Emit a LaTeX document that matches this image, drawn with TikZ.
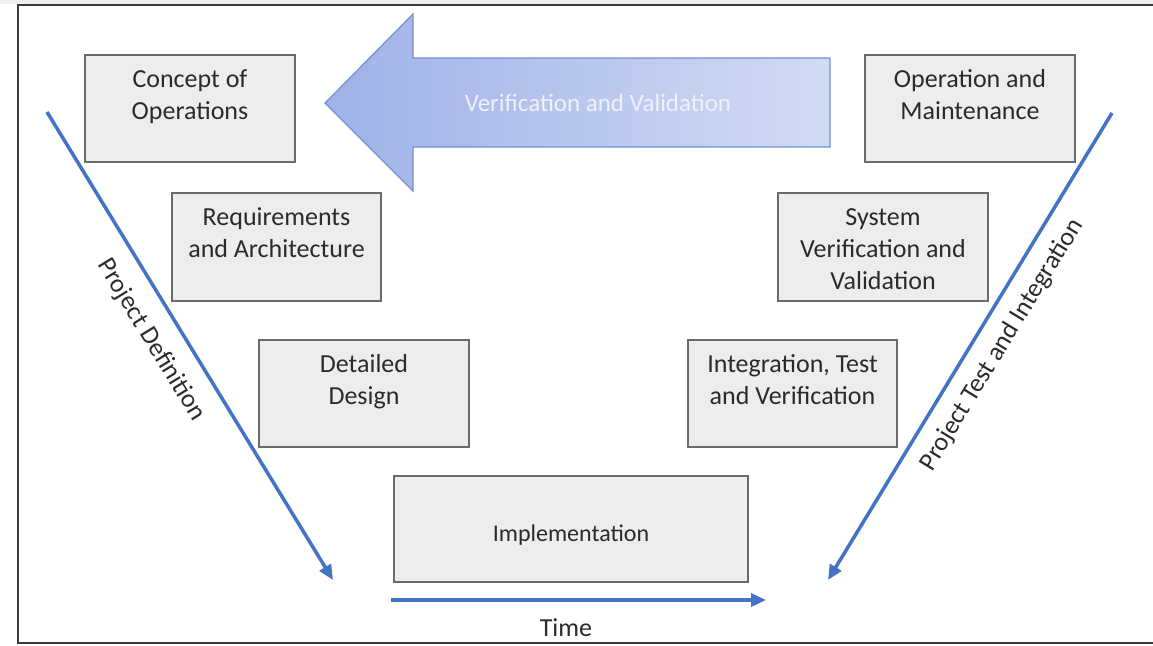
\documentclass[tikz,border=0pt]{standalone}
\usepackage{fontspec}
\setmainfont{Carlito}
\usetikzlibrary{arrows.meta}
\definecolor{boxfill}{HTML}{EDEDED}
\definecolor{boxline}{HTML}{6A6A6A}
\definecolor{txt}{HTML}{2B2B2B}
\definecolor{vblue}{HTML}{4472C4}
\definecolor{arrL}{HTML}{9FB1E8}
\definecolor{arrR}{HTML}{D2DBF3}
\definecolor{arrline}{HTML}{7390D2}
\definecolor{arrtxt}{HTML}{EEF2FC}
\definecolor{framec}{HTML}{3A3A3A}
\newcommand\stagetext[3]{\parbox[c][#2][t]{#1}{\vspace*{9.6pt}\centering\strut #3}}
\tikzset{
  stage/.style={draw=boxline, fill=boxfill, line width=1.6pt, inner sep=0pt,
    text=txt, font=\fontsize{26}{32}\selectfont},
  flow/.style={draw=vblue, line width=3.5pt, -{Triangle[length=15pt,width=13pt]}},
  lbl/.style={text=txt, font=\fontsize{26}{32}\selectfont, inner sep=0pt}
}
\begin{document}
\begin{tikzpicture}[x=1pt,y=-1pt]
\useasboundingbox (0,0) rectangle (1153,645);
\fill[gray!12] (0,0) rectangle (1153,4);
\draw[line width=2pt, draw=framec] (1153,5) -- (18,5) -- (18,643) -- (1153,643);

% big verification arrow
\shade[left color=arrL, right color=arrR]
  (325,103) -- (413,14) -- (413,58) -- (830,58) -- (830,147) -- (413,147) -- (413,191) -- cycle;
\draw[draw=arrline, line width=1.2pt, line join=miter]
  (325,103) -- (413,14) -- (413,58) -- (830,58) -- (830,147) -- (413,147) -- (413,191) -- cycle;
\node[lbl, text=arrtxt, font=\fontsize{25}{30}\selectfont] (vv) at (598,103) {Verification and Validation};

% stage boxes
\node[stage] (conops) at (190,108.5) {\stagetext{210pt}{107pt}{Concept of\\Operations}};
\node[stage] (om) at (970,108.5) {\stagetext{210pt}{107pt}{Operation and\\Maintenance}};
\node[stage] (req) at (276.5,247) {\stagetext{209pt}{108pt}{Requirements\\and Architecture}};
\node[stage] (svv) at (883,247) {\stagetext{210pt}{108pt}{System\\Verification and\\Validation}};
\node[stage] (dd) at (364,393.5) {\stagetext{210pt}{107pt}{Detailed\\Design}};
\node[stage] (itv) at (792.5,393.5) {\stagetext{209pt}{107pt}{Integration, Test\\and Verification}};
\node[stage, minimum width=354pt, minimum height=106pt, text height=25pt, text depth=0pt,
  font=\fontsize{24}{30}\selectfont] (impl) at (571,529) {Implementation};

% direction arrows
\coordinate (pdS) at (47,112);
\coordinate (pdE) at (333,580);
\draw[flow] (pdS) -- (pdE);
\node[lbl, rotate=-58.6] (pdl) at (151,340) {Project Definition};

\coordinate (ptS) at (1112,113);
\coordinate (ptE) at (828,580);
\draw[flow] (ptS) -- (ptE);
\node[lbl, rotate=58.6] (ptl) at (1002,345) {Project Test and Integration};

\coordinate (tS) at (391,600);
\coordinate (tE) at (766,600);
\draw[flow] (tS) -- (tE);
\node[lbl] (time) at (566,628) {Time};
\end{tikzpicture}
\end{document}
